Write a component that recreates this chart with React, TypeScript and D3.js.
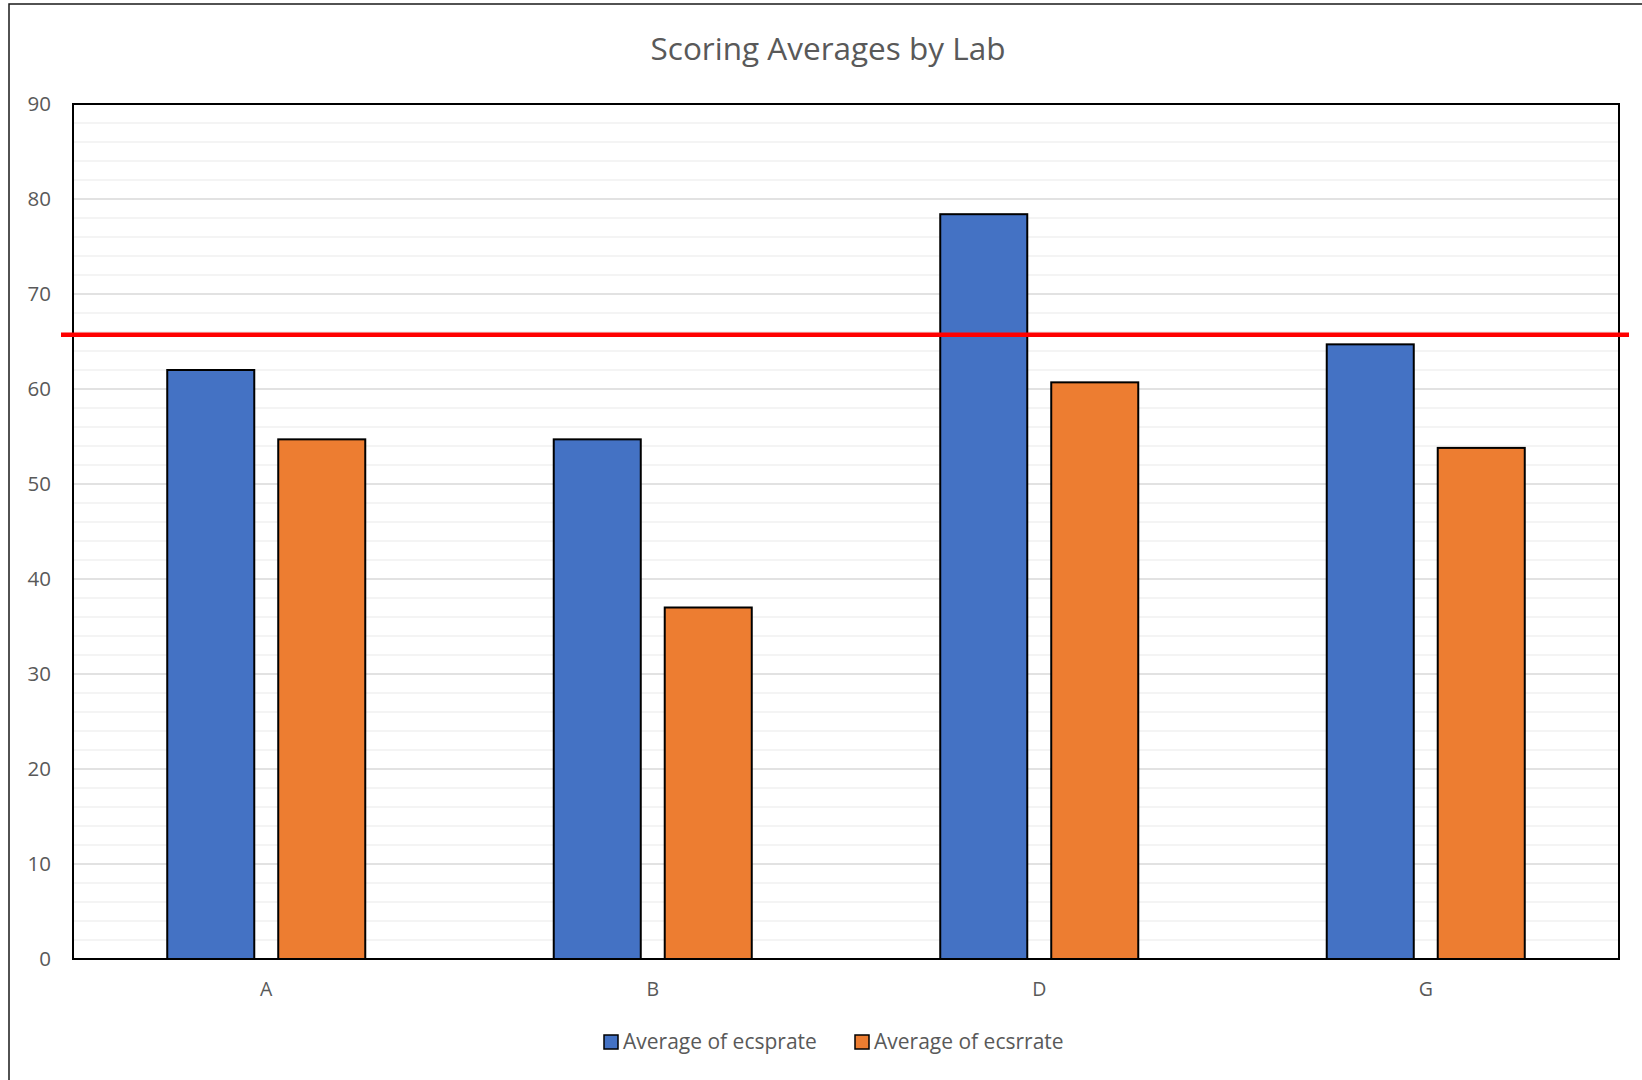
import * as d3 from "d3";

const labs = ["A", "B", "D", "G"];
const seriesNames = ["Average of ecsprate", "Average of ecsrrate"];
const ecsprate = [62.0, 54.7, 78.4, 64.7];
const ecsrrate = [54.7, 37.0, 60.7, 53.8];
const targetValue = 65.7;
const yTicks = [0, 10, 20, 30, 40, 50, 60, 70, 80, 90];
const colors = ["#4472C4", "#ED7D31"];

const W = 1642;
const H = 1080;
const plot = { left: 73, right: 1619, top: 104, bottom: 959 };
const font = "'Open Sans', 'Noto Sans', sans-serif";

export default function App() {
    const x = d3.scaleBand().domain(labs).range([plot.left, plot.right]);
    const x1 = d3
        .scaleBand()
        .domain(seriesNames)
        .range([0, x.bandwidth()])
        .paddingInner(0.216)
        .paddingOuter(0.849);
    const y = d3.scaleLinear().domain([0, 90]).range([plot.bottom, plot.top]);
    const minorTicks = d3.range(0, 91, 2).filter((v) => v % 10 !== 0);
    const values = [ecsprate, ecsrrate];
    const legendX = [604, 855];

    return (
        <svg
            width={W}
            height={H}
            style={{ position: "absolute", left: 0, top: 0, background: "#fff" }}
            fontFamily={font}
        >
            <rect x={9} y={4} width={W + 20} height={H + 20} fill="#fff" stroke="#1a1a1a" strokeWidth={1.5} />

            <text x={828} y={60} textAnchor="middle" fontSize={31.5} fill="#595959">
                Scoring Averages by Lab
            </text>

            {minorTicks.map((v) => (
                <line key={"m" + v} x1={plot.left} x2={plot.right} y1={y(v)} y2={y(v)} stroke="#f0f0f0" strokeWidth={1.5} />
            ))}
            {yTicks.map((v) => (
                <line key={"g" + v} x1={plot.left} x2={plot.right} y1={y(v)} y2={y(v)} stroke="#d9d9d9" strokeWidth={1.5} />
            ))}

            {yTicks.map((v) => (
                <text key={"t" + v} x={51} y={y(v)} dy="0.35em" textAnchor="end" fontSize={20.5} fill="#595959">
                    {v}
                </text>
            ))}

            {labs.map((lab, i) => (
                <g key={lab}>
                    {seriesNames.map((s, j) => (
                        <rect
                            key={s}
                            x={x(lab)! + x1(s)!}
                            y={y(values[j][i])}
                            width={x1.bandwidth()}
                            height={plot.bottom - y(values[j][i])}
                            fill={colors[j]}
                            stroke="#000"
                            strokeWidth={2}
                        />
                    ))}
                    <text
                        x={x(lab)! + x.bandwidth() / 2}
                        y={989}
                        dy="0.35em"
                        textAnchor="middle"
                        fontSize={19.5}
                        fill="#595959"
                    >
                        {lab}
                    </text>
                </g>
            ))}

            <rect
                x={plot.left}
                y={plot.top}
                width={plot.right - plot.left}
                height={plot.bottom - plot.top}
                fill="none"
                stroke="#000"
                strokeWidth={2}
            />

            <line x1={61} x2={1629} y1={y(targetValue)} y2={y(targetValue)} stroke="#FF0000" strokeWidth={4.5} />

            {seriesNames.map((s, j) => (
                <g key={s}>
                    <rect x={legendX[j]} y={1035} width={14} height={14} fill={colors[j]} stroke="#000" strokeWidth={1.5} />
                    <text x={legendX[j] + 19} y={1042} dy="0.35em" fontSize={21} fill="#595959">
                        {s}
                    </text>
                </g>
            ))}
        </svg>
    );
}
